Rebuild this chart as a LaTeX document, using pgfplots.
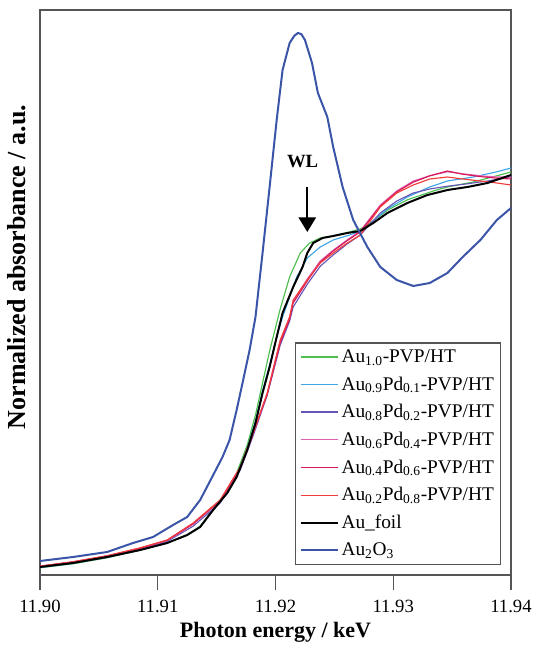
\documentclass[border=0pt]{standalone}
\usepackage{pgfplots}
\pgfplotsset{compat=1.18}
\usetikzlibrary{arrows.meta}
\usepackage{fontspec}
\setmainfont{Liberation Serif}

\definecolor{cAu}{HTML}{4CBF4C}
\definecolor{cAuPdA}{HTML}{3FA6E6}
\definecolor{cAuPdB}{HTML}{6655B5}
\definecolor{cAuPdC}{HTML}{E060B5}
\definecolor{cAuPdD}{HTML}{D41858}
\definecolor{cAuPdE}{HTML}{F23C3C}
\definecolor{cOx}{HTML}{3A55A8}
\definecolor{axgray}{HTML}{555555}

\begin{document}
\begin{tikzpicture}
\begin{axis}[
    scale only axis,
    width=353.25pt, height=423.75pt,
    xmin=11.90, xmax=11.94,
    ymin=0, ymax=1.4125,
    xtick={11.90,11.91,11.92,11.93,11.94},
    xtick pos=bottom,
    ytick=\empty,
    tick align=outside,
    major tick length=11pt,
    xtick style={axgray, line width=0.9pt},
    axis line style={axgray, line width=1.2pt},
    x tick label style={/pgf/number format/fixed, /pgf/number format/fixed zerofill,
        /pgf/number format/precision=2, font=\rmfamily\fontsize{14}{16}\selectfont,
        yshift=-4pt},
    /pgf/number format/assume math mode=true,
    scaled x ticks=false,
    xlabel={\textbf{Photon energy / keV}},
    ylabel={\textbf{Normalized absorbance / a.u.}},
    every axis x label/.style={at={(axis description cs:0.5,-0.075)}, anchor=north,
        font=\fontsize{16.5}{18}\selectfont},
    every axis y label/.style={at={(axis description cs:-0.02,0.545)}, rotate=90, anchor=south,
        font=\fontsize{19.5}{21}\selectfont},
    legend cell align=left,
    legend style={at={(rel axis cs:0.979,0.0177)}, anchor=south east,
        draw=axgray, line width=0.9pt, font=\fontsize{14.5}{17}\selectfont,
        row sep=5.2pt, inner sep=3pt},
    legend image code/.code={\draw[#1] (0pt,0pt) -- (28pt,0pt);},
]
% Au1.0-PVP/HT
\addplot[cAu, line width=0.85pt] coordinates {
(11.9000,0.018)(11.9028,0.028)(11.9057,0.043)(11.9085,0.062)(11.9108,0.080)(11.9125,0.100)
(11.9136,0.122)(11.9147,0.165)(11.9159,0.210)(11.9167,0.255)(11.9176,0.325)(11.9183,0.400)
(11.9189,0.480)(11.9195,0.560)(11.9201,0.630)(11.9204,0.665)(11.9212,0.745)(11.9221,0.805)
(11.9229,0.830)(11.9238,0.8425)(11.9249,0.848)(11.9261,0.856)(11.9272,0.865)(11.9283,0.885)
(11.9295,0.912)(11.9312,0.938)(11.9334,0.960)(11.9346,0.970)(11.9368,0.9825)(11.9400,1.0075)};
% Au0.9Pd0.1-PVP/HT
\addplot[cAuPdA, line width=0.85pt] coordinates {
(11.9000,0.019)(11.9028,0.029)(11.9057,0.044)(11.9085,0.062)(11.9108,0.080)(11.9125,0.100)
(11.9136,0.121)(11.9147,0.162)(11.9159,0.205)(11.9167,0.247)(11.9176,0.315)(11.9183,0.385)
(11.9189,0.460)(11.9195,0.525)(11.9201,0.595)(11.9206,0.645)(11.9218,0.745)(11.9227,0.7925)
(11.9238,0.820)(11.9249,0.8375)(11.9263,0.850)(11.9272,0.860)(11.9283,0.885)(11.9295,0.915)
(11.9312,0.945)(11.9331,0.970)(11.9346,0.985)(11.9368,0.995)(11.9388,1.008)(11.9400,1.0175)};
% Au0.8Pd0.2-PVP/HT
\addplot[cAuPdB, line width=0.85pt] coordinates {
(11.9000,0.021)(11.9028,0.031)(11.9057,0.046)(11.9085,0.065)(11.9108,0.084)(11.9130,0.122)
(11.9153,0.180)(11.9170,0.262)(11.9181,0.348)(11.9193,0.450)(11.9204,0.575)(11.9212,0.635)
(11.9215,0.670)(11.9227,0.727)(11.9238,0.772)(11.9249,0.800)(11.9261,0.828)(11.9272,0.850)
(11.9289,0.905)(11.9303,0.935)(11.9317,0.955)(11.9331,0.965)(11.9346,0.972)(11.9363,0.978)
(11.9380,0.985)(11.9400,0.995)};
% Au0.6Pd0.4-PVP/HT
\addplot[cAuPdC, line width=0.85pt] coordinates {
(11.9000,0.022)(11.9028,0.032)(11.9057,0.047)(11.9085,0.066)(11.9108,0.086)(11.9130,0.127)
(11.9153,0.184)(11.9170,0.266)(11.9181,0.352)(11.9193,0.455)(11.9204,0.585)(11.9212,0.645)
(11.9215,0.685)(11.9227,0.740)(11.9238,0.785)(11.9249,0.812)(11.9261,0.838)(11.9272,0.860)
(11.9289,0.925)(11.9303,0.960)(11.9317,0.985)(11.9331,0.998)(11.9346,1.008)(11.9359,1.003)
(11.9374,0.998)(11.9388,0.995)(11.9400,0.995)};
% Au0.4Pd0.6-PVP/HT
\addplot[cAuPdD, line width=0.85pt] coordinates {
(11.9000,0.022)(11.9028,0.033)(11.9057,0.048)(11.9085,0.067)(11.9108,0.087)(11.9130,0.128)
(11.9153,0.186)(11.9170,0.268)(11.9181,0.354)(11.9193,0.452)(11.9204,0.580)(11.9212,0.640)
(11.9215,0.680)(11.9227,0.735)(11.9238,0.782)(11.9249,0.810)(11.9261,0.836)(11.9272,0.858)
(11.9289,0.922)(11.9303,0.958)(11.9317,0.982)(11.9331,0.998)(11.9346,1.010)(11.9359,1.002)
(11.9374,0.996)(11.9388,0.992)(11.9400,0.990)};
% Au0.2Pd0.8-PVP/HT
\addplot[cAuPdE, line width=0.85pt] coordinates {
(11.9000,0.022)(11.9028,0.033)(11.9057,0.048)(11.9085,0.068)(11.9108,0.0875)(11.9130,0.130)
(11.9153,0.1875)(11.9170,0.270)(11.9181,0.355)(11.9193,0.455)(11.9204,0.5875)(11.9212,0.645)
(11.9215,0.6875)(11.9227,0.7375)(11.9238,0.780)(11.9249,0.805)(11.9261,0.830)(11.9272,0.850)
(11.9289,0.920)(11.9303,0.955)(11.9317,0.975)(11.9331,0.990)(11.9346,0.995)(11.9359,0.990)
(11.9374,0.985)(11.9388,0.980)(11.9400,0.975)};
% Au_foil
\addplot[black, line width=1.5pt] coordinates {
(11.9000,0.020)(11.9028,0.030)(11.9057,0.045)(11.9085,0.0625)(11.9108,0.080)(11.9125,0.100)
(11.9136,0.120)(11.9147,0.1625)(11.9159,0.205)(11.9167,0.245)(11.9176,0.3125)(11.9183,0.380)
(11.9189,0.455)(11.9195,0.520)(11.9201,0.595)(11.9206,0.655)(11.9215,0.720)(11.9223,0.770)
(11.9227,0.805)(11.9232,0.830)(11.9240,0.8425)(11.9249,0.8475)(11.9261,0.855)(11.9272,0.860)
(11.9283,0.880)(11.9295,0.905)(11.9312,0.930)(11.9329,0.950)(11.9346,0.9625)(11.9363,0.970)
(11.9380,0.980)(11.9400,1.000)};
% Au2O3
\addplot[cOx, line width=1.5pt] coordinates {
(11.9000,0.035)(11.9028,0.045)(11.9057,0.0575)(11.9079,0.080)(11.9096,0.095)(11.9113,0.125)
(11.9125,0.145)(11.9136,0.1875)(11.9144,0.2325)(11.9155,0.295)(11.9161,0.3375)(11.9167,0.4125)
(11.9172,0.480)(11.9178,0.5625)(11.9183,0.645)(11.9189,0.805)(11.9195,0.970)(11.9201,1.1375)
(11.9206,1.2625)(11.9212,1.330)(11.9216,1.348)(11.9219,1.355)(11.9222,1.352)(11.9225,1.3375)
(11.9231,1.280)(11.9236,1.205)(11.9244,1.145)(11.9249,1.070)(11.9257,0.970)(11.9266,0.8875)
(11.9278,0.820)(11.9289,0.770)(11.9303,0.7375)(11.9317,0.7225)(11.9331,0.730)(11.9346,0.755)
(11.9359,0.795)(11.9374,0.8375)(11.9388,0.8875)(11.9400,0.9175)};
\legend{Au\textsubscript{1.0}-PVP/HT,
        Au\textsubscript{0.9}Pd\textsubscript{0.1}-PVP/HT,
        Au\textsubscript{0.8}Pd\textsubscript{0.2}-PVP/HT,
        Au\textsubscript{0.6}Pd\textsubscript{0.4}-PVP/HT,
        Au\textsubscript{0.4}Pd\textsubscript{0.6}-PVP/HT,
        Au\textsubscript{0.2}Pd\textsubscript{0.8}-PVP/HT,
        Au\_foil,
        Au\textsubscript{2}O\textsubscript{3}}
\node[font=\bfseries\fontsize{14}{16}\selectfont] at (axis cs:11.9223,1.0325) {WL};
\draw[black, line width=1.5pt, -{Triangle[width=13pt,length=11pt]}]
    (axis cs:11.9227,0.970) -- (axis cs:11.9227,0.8575);
\coordinate (bl) at (rel axis cs:0,0);
\end{axis}
\pgfresetboundingbox
\path ([shift={(-30pt,-57.75pt)}]bl) rectangle ([shift={(371.25pt,431.25pt)}]bl);
\end{tikzpicture}
\end{document}
